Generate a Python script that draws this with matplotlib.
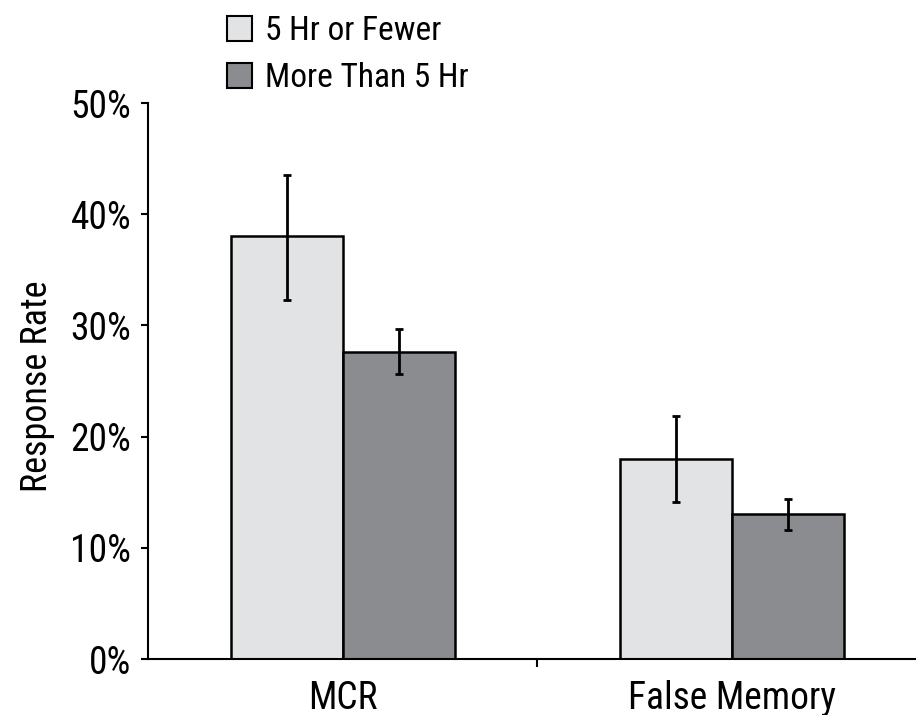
import matplotlib
matplotlib.use("Agg")
import matplotlib.pyplot as plt
import numpy as np
from matplotlib.patches import Patch

plt.rcParams['font.family'] = ['Roboto Condensed', 'Archivo Narrow', 'DejaVu Sans']

categories = ["MCR", "False Memory"]
series_names = ["5 Hr or Fewer", "More Than 5 Hr"]
fewer_vals = [38.0, 18.0]
fewer_err_low = [5.7, 3.85]
fewer_err_high = [5.5, 3.85]
more_vals = [27.6, 13.0]
more_err_low = [1.95, 1.4]
more_err_high = [2.05, 1.4]
ytick_vals = [0, 10, 20, 30, 40, 50]
ytick_labels = ["0%", "10%", "20%", "30%", "40%", "50%"]

colors = ["#e2e3e5", "#8b8c8f"]

fig = plt.figure(figsize=(9.17, 7.15), dpi=100)
ax = fig.add_axes([148 / 917, 56 / 715, 767 / 917, 556 / 715])

x = np.arange(len(categories))
w = 0.288
err_kw = dict(ecolor="black", elinewidth=2, capsize=3, capthick=2)
ax.bar(x - w / 2, fewer_vals, w, color=colors[0], edgecolor="black", linewidth=1.8,
       yerr=[fewer_err_low, fewer_err_high], error_kw=err_kw, zorder=2)
ax.bar(x + w / 2, more_vals, w, color=colors[1], edgecolor="black", linewidth=1.8,
       yerr=[more_err_low, more_err_high], error_kw=err_kw, zorder=2)

ax.set_xlim(-0.5, 1.47)
ax.set_ylim(0, 50)
ax.set_yticks(ytick_vals)
ax.set_yticklabels(ytick_labels)
ax.set_xticks(x)
ax.set_xticklabels(categories)
ax.set_xticks([0.5], minor=True)
ax.tick_params(axis="x", which="major", length=0, pad=15, labelsize=27)
ax.tick_params(axis="x", which="minor", length=6, width=1.5, direction="out")
ax.tick_params(axis="y", length=5, width=1.5, direction="out", pad=7, labelsize=27)

for side in ("top", "right"):
    ax.spines[side].set_visible(False)
for side in ("left", "bottom"):
    ax.spines[side].set_linewidth(1.5)

ax.set_ylabel("Response Rate", fontsize=26)
ax.yaxis.set_label_coords(-0.1215, 0.49)

handles = [Patch(facecolor=c, edgecolor="black", linewidth=1.5) for c in colors]
fig.legend(handles, series_names, loc="upper left", bbox_to_anchor=(207 / 917, 1 + 5 / 715),
           frameon=False, fontsize=24, handlelength=0.75, handleheight=0.75,
           handletextpad=0.4, labelspacing=0.45, borderpad=0.1)

fig.savefig("out.png", dpi=100)
